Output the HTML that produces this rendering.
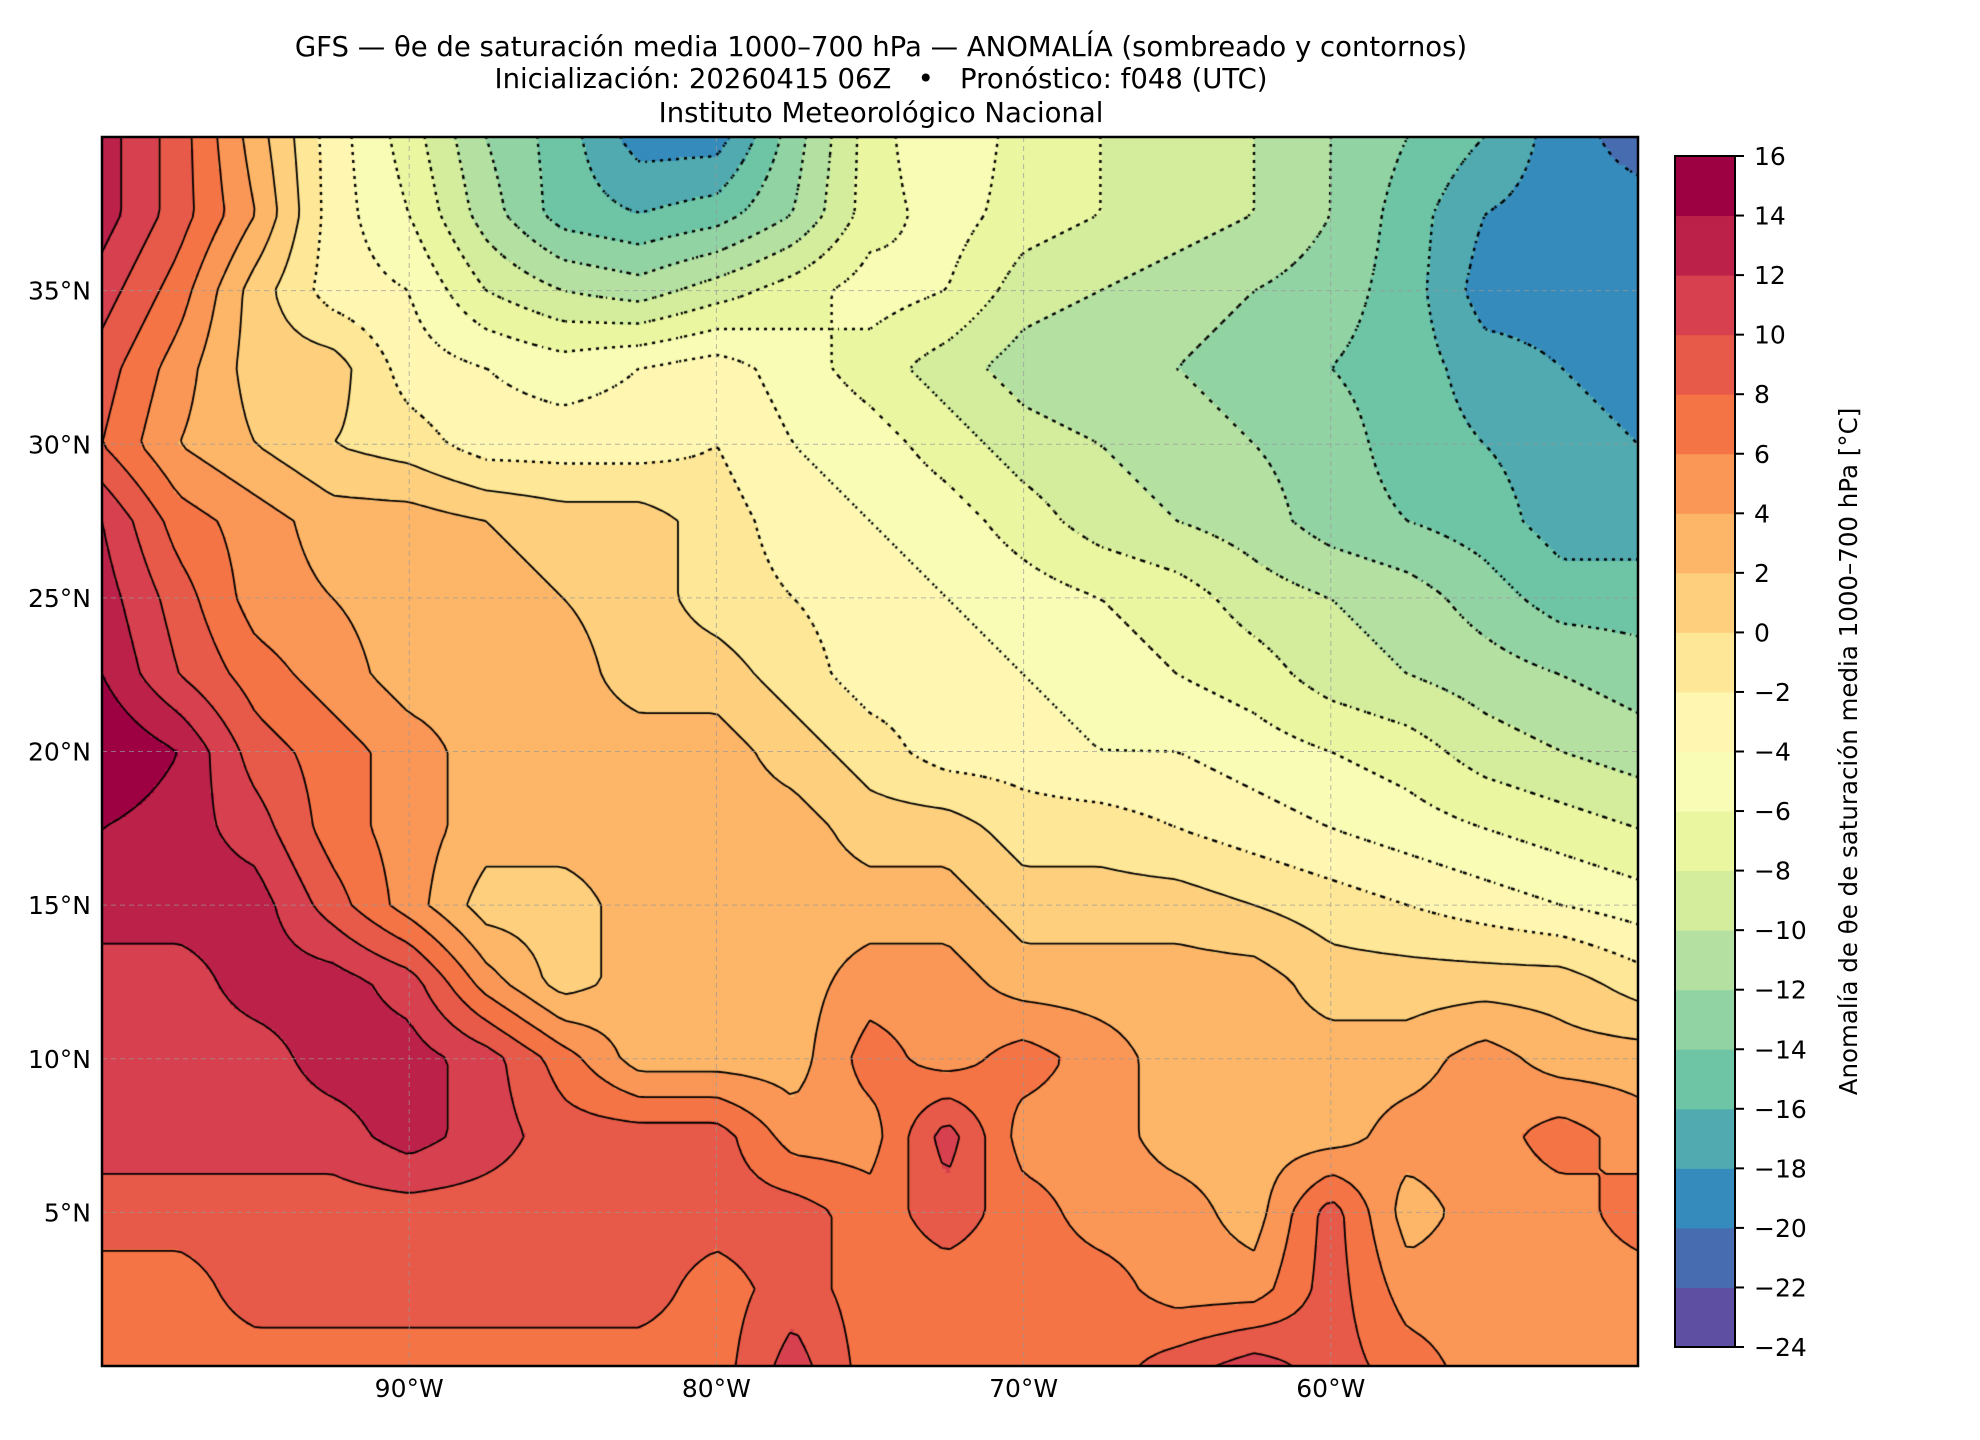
<!DOCTYPE html>
<html><head><meta charset="utf-8">
<style>
html,body{margin:0;padding:0;background:#fff;}
#wrap{position:relative;width:1980px;height:1440px;overflow:hidden;font-family:"DejaVu Sans","Liberation Sans",sans-serif;}
canvas{position:absolute;}
svg{position:absolute;left:0;top:0;}
</style></head>
<body>
<div id="wrap">
<canvas id="field" width="1536" height="1229" style="left:102px;top:137px"></canvas>
<svg id="ov" width="1980" height="1440"></svg>
</div>
<script>
// ---- data ----
const lons = [-100,-97.5,-95,-92.5,-90,-87.5,-85,-82.5,-80,-77.5,-75,-72.5,-70,-67.5,-65,-62.5,-60,-57.5,-55,-52.5,-50];
const lats = [40,37.5,35,32.5,30,27.5,25,22.5,20,17.5,15,12.5,10,7.5,5,2.5,0];
const r40  = [13,9,3,-3,-7,-12,-15,-19,-19,-13,-7,-4,-7,-8,-9,-10,-12,-14,-16,-19,-21];
const r375 = [13,9,4,-3,-6,-11,-15,-16,-15,-12,-7,-5,-7,-8,-9,-10,-12,-15,-18,-19,-19];
const r35  = [11,7,1,-3,-4,-8,-10,-11,-9,-7,-5,-6,-9,-10,-11,-12,-13,-15,-19,-19,-19];
const r325 = [9,5,1,1,-3,-4,-5,-4,-3,-5,-7,-9,-11,-12,-12,-13,-14,-15,-17,-18,-19];
const r30  = [8,4,2,0,-1,-3,-3,-3,-2,-4,-5,-7,-9,-10,-11,-12,-13,-15,-16,-17,-18];
const r275 = [12,7,5,3,3,2,1,1,-1,-3,-4,-5,-7,-9,-10,-11,-13,-14,-15,-17,-17];
const r25  = [13,9,5,4,3,3,2,1,-1,-2,-3,-4,-5,-6,-7,-9,-10,-11,-13,-15,-15];
const r225 = [14,10,7,5,3,3,3,1,1,-1,-3,-3,-4,-5,-6,-7,-9,-10,-11,-12,-13];
const r20  = [16,14,9,7,5,3,3,3,3,1,-1,-3,-3,-4,-4,-5,-6,-7,-9,-10,-11];
const r175 = [14,13,11,7,5,3,3,3,3,3,1,1,-1,-1,-2,-3,-4,-5,-6,-7,-8];
const r15  = [13,13,13,9,5,1,1,3,3,3,3,3,1,1,1,0,-1,-2,-3,-4,-5];
const r125 = [11,11,13,13,11,5,1,3,3,3,5,5,3,3,3,3,1,1,1,1,-1];
const r10  = [11,11,11,13,13,11,7,3,3,3,7,5,7,5,3,3,3,3,5,3,3];
const r75  = [11,11,11,11,13,11,9,9,9,5,5,11,5,5,3,3,3,5,5,7,5];
const r5   = [9,9,9,9,9,9,9,9,9,9,7,9,7,5,5,3,9,3,5,5,7];
const r25s = [7,7,9,9,9,9,9,9,7,9,7,7,7,7,5,5,9,5,5,5,5];
const r0   = [7,7,7,7,7,7,7,7,7,11,7,7,7,7,9,11,9,7,5,5,5];
const grid = [r40,r375,r35,r325,r30,r275,r25,r225,r20,r175,r15,r125,r10,r75,r5,r25s,r0];
const levels = [-24,-22,-20,-18,-16,-14,-12,-10,-8,-6,-4,-2,0,2,4,6,8,10,12,14,16];
const cbTicks = [16,14,12,10,8,6,4,2,0,-2,-4,-6,-8,-10,-12,-14,-16,-18,-20,-22,-24];
const lonTicks = [-90,-80,-70,-60];
const latTicks = [5,10,15,20,25,30,35];

// ---- geometry ----
const PX=102, PY=137, PW=1536, PH=1229;
const xOf = lon => PX + (lon+100)/50*PW;
const yOf = lat => PY + (40-lat)/40*PH;
const CBX=1675, CBW=60, CBT=156, CBB=1347;
const cbY = v => CBB - (v+24)/40*(CBB-CBT);

const spec = [[158,1,66],[213,62,79],[244,109,67],[253,174,97],[254,224,139],[255,255,191],[230,245,152],[171,221,164],[102,194,165],[50,136,189],[94,79,162]];
function specAt(t){t=Math.max(0,Math.min(1,t));const f=t*10,i=Math.min(9,Math.floor(f)),u=f-i;const a=spec[i],b=spec[i+1];return [0,1,2].map(k=>Math.round(a[k]+(b[k]-a[k])*u));}
const binCols = [];
for(let i=0;i<levels.length-1;i++){binCols.push(specAt(1-i/(levels.length-2)));}
function binIdx(v){let i=Math.floor((v+24)/2);return Math.max(0,Math.min(binCols.length-1,i));}
function valAt(lon,lat){
  let fx=(lon+100)/2.5, fy=(40-lat)/2.5;
  let i=Math.min(lons.length-2,Math.max(0,Math.floor(fx))), j=Math.min(lats.length-2,Math.max(0,Math.floor(fy)));
  let u=fx-i,w=fy-j;
  return grid[j][i]*(1-u)*(1-w)+grid[j][i+1]*u*(1-w)+grid[j+1][i]*(1-u)*w+grid[j+1][i+1]*u*w;
}

// ---- field ----
const cv=document.getElementById('field'),ctx=cv.getContext('2d');
const img=ctx.createImageData(PW,PH);
const cell=4;
for(let y=0;y<PH;y+=cell){for(let x=0;x<PW;x+=cell){
  const lon=-100+(x+cell/2)/PW*50, lat=40-(y+cell/2)/PH*40;
  const c=binCols[binIdx(valAt(lon,lat))];
  for(let yy=y;yy<Math.min(PH,y+cell);yy++)for(let xx=x;xx<Math.min(PW,x+cell);xx++){
    const p=(yy*PW+xx)*4;img.data[p]=c[0];img.data[p+1]=c[1];img.data[p+2]=c[2];img.data[p+3]=255;}
}}
ctx.putImageData(img,0,0);

const NS=8, nx=Math.ceil(PW/NS)+1, ny=Math.ceil(PH/NS)+1;
const F=[];
for(let j=0;j<ny;j++){F.push([]);for(let i=0;i<nx;i++){F[j].push(valAt(-100+i*NS/PW*50,40-j*NS/PH*40));}}
levels.forEach(L=>{
  if(L===-24||L===16)return;
  ctx.beginPath();
  for(let j=0;j<ny-1;j++)for(let i=0;i<nx-1;i++){
    const a=F[j][i],b=F[j][i+1],c=F[j+1][i+1],d=F[j+1][i];
    const pts=[];
    const e=(v1,v2,x1,y1,x2,y2)=>{if((v1<L)!==(v2<L)){const t=(L-v1)/(v2-v1);pts.push([x1+(x2-x1)*t,y1+(y2-y1)*t]);}};
    const X=i*NS,Y=j*NS;
    e(a,b,X,Y,X+NS,Y);e(b,c,X+NS,Y,X+NS,Y+NS);e(c,d,X+NS,Y+NS,X,Y+NS);e(d,a,X,Y+NS,X,Y);
    for(let k=0;k+1<pts.length;k+=2){ctx.moveTo(pts[k][0],pts[k][1]);ctx.lineTo(pts[k+1][0],pts[k+1][1]);}
  }
  ctx.strokeStyle='#000';
  if(L<0){ctx.setLineDash([2,5]);ctx.lineWidth=2.4;}else{ctx.setLineDash([]);ctx.lineWidth=1.8;}
  ctx.stroke();
});

// ---- overlay ----
const NSV='http://www.w3.org/2000/svg', ov=document.getElementById('ov');
function mk(tag,attrs,parent){const e=document.createElementNS(NSV,tag);for(const k in attrs)e.setAttribute(k,attrs[k]);(parent||ov).appendChild(e);return e;}
function txt(s,attrs){const e=mk('text',attrs);e.textContent=s;return e;}

lonTicks.forEach(lon=>{
  const g=mk('line',{x1:xOf(lon),x2:xOf(lon),y1:PY,y2:PY+PH,stroke:'#999','stroke-width':1,'stroke-dasharray':'5,4','stroke-opacity':0.7});
  
  
  const t=txt(Math.abs(lon)+'°W',{x:xOf(lon),y:1397,'font-size':25,'text-anchor':'middle',fill:'#000'});
  
  
});
latTicks.forEach(lat=>{
  const g=mk('line',{x1:PX,x2:PX+PW,y1:yOf(lat),y2:yOf(lat),stroke:'#999','stroke-width':1,'stroke-dasharray':'5,4','stroke-opacity':0.7});
  
  
  const t=txt(lat+'°N',{x:91,y:yOf(lat)+9,'font-size':25,'text-anchor':'end',fill:'#000'});
  
  
});
const fr=mk('rect',{x:PX,y:PY,width:PW,height:PH,fill:'none',stroke:'#000','stroke-width':2.5});



for(let i=0;i<binCols.length;i++){
  const c=binCols[i];
  const r=mk('rect',{x:CBX,y:cbY(levels[i+1]),width:CBW,height:cbY(levels[i])-cbY(levels[i+1])+0.5,fill:`rgb(${c[0]},${c[1]},${c[2]})`});
  
  
}
const cbf=mk('rect',{x:CBX,y:CBT,width:CBW,height:CBB-CBT,fill:'none',stroke:'#000','stroke-width':2});


cbTicks.forEach(v=>{
  const l=mk('line',{x1:CBX+CBW,x2:CBX+CBW+9,y1:cbY(v),y2:cbY(v),stroke:'#000','stroke-width':2});
  
  
  const t=txt(v<0?'\u2212'+Math.abs(v):String(v),{x:1754,y:cbY(v)+9,'font-size':25,fill:'#000'});
  
  
});
const cbl=txt('Anomalía de θe de saturación media 1000–700 hPa [°C]',{x:0,y:0,'font-size':24.5,'text-anchor':'middle',fill:'#000',transform:`translate(1857,${(CBT+CBB)/2}) rotate(-90)`});



const t1=txt('GFS — θe de saturación media 1000–700 hPa — ANOMALÍA (sombreado y contornos)',{x:881,y:56,'font-size':27.5,'text-anchor':'middle',fill:'#000'});


const t2=txt('Inicialización: 20260415 06Z   •   Pronóstico: f048 (UTC)',{x:881,y:88,'font-size':27.5,'text-anchor':'middle',fill:'#000'});
t2.setAttribute('style','white-space:pre');


const t3=txt('Instituto Meteorológico Nacional',{x:881,y:122,'font-size':27.5,'text-anchor':'middle',fill:'#000'});


</script>
</body></html>
